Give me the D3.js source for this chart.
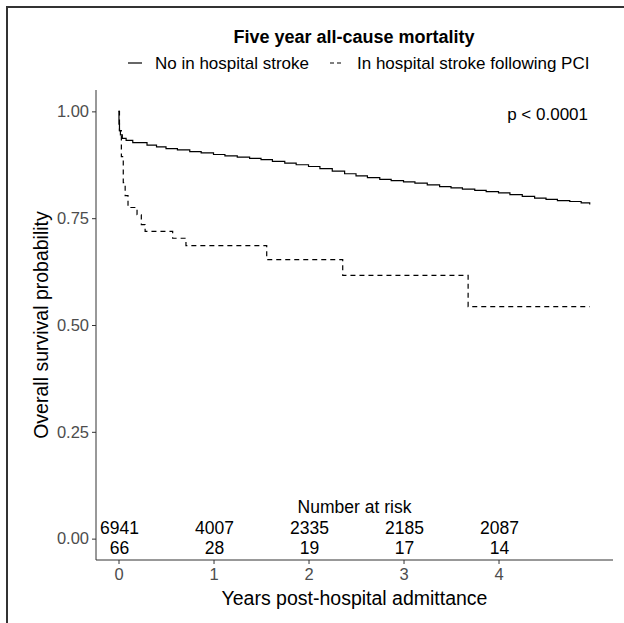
<!DOCTYPE html>
<html>
<head>
  <meta charset="utf-8">
  <script src="https://cdn.jsdelivr.net/npm/d3@7"></script>
  <style>
    body { margin: 0; background: #fff; }
    svg { display: block; font-family: "Liberation Sans", Arial, sans-serif; }
    .tick text { fill: #4d4d4d; font-size: 16.5px; }
    .tick line, .domain { stroke: #333; }
  </style>
</head>
<body>
<script>
// Kaplan-Meier estimates (years, survival)
const noStrokeT = [0, 0.005, 0.01, 0.02, 0.04, 0.08, 0.15, 0.3, 0.4, 0.5, 0.62, 0.75, 0.87, 1.0, 1.12, 1.25, 1.38, 1.5, 1.62, 1.75, 1.87, 2.0, 2.12, 2.25, 2.38, 2.5, 2.62, 2.75, 2.87, 3.0, 3.12, 3.25, 3.38, 3.5, 3.62, 3.75, 3.87, 4.0, 4.12, 4.25, 4.38, 4.5, 4.62, 4.75, 4.87, 4.96];
const noStrokeS = [1.0, 0.97, 0.955, 0.945, 0.937, 0.932, 0.927, 0.921, 0.917, 0.913, 0.910, 0.906, 0.903, 0.899, 0.896, 0.893, 0.890, 0.887, 0.883, 0.879, 0.875, 0.871, 0.866, 0.860, 0.854, 0.849, 0.845, 0.841, 0.838, 0.835, 0.832, 0.828, 0.824, 0.821, 0.818, 0.815, 0.812, 0.809, 0.805, 0.801, 0.797, 0.794, 0.791, 0.789, 0.786, 0.782];

const strokeT = [0, 0.01, 0.03, 0.05, 0.07, 0.10, 0.195, 0.24, 0.28, 0.57, 0.71, 1.56, 2.36, 3.68, 4.96];
const strokeS = [1.0, 0.955, 0.894, 0.833, 0.803, 0.775, 0.758, 0.735, 0.719, 0.703, 0.686, 0.653, 0.616, 0.543, 0.543];

const riskTimes = [0, 1, 2, 3, 4];
const riskNoStroke = [6941, 4007, 2335, 2185, 2087];
const riskStroke = [66, 28, 19, 17, 14];

const yTicks = [0, 0.25, 0.5, 0.75, 1];
const xTicks = [0, 1, 2, 3, 4];

const width = 624, height = 623;
const pLeft = 96, pRight = 613, pTop = 90, pBottom = 560;

const svg = d3.select("body").append("svg")
  .attr("width", width).attr("height", height);

// outer frame (cropped at right and bottom)
svg.append("rect")
  .attr("x", 7).attr("y", 7).attr("width", 700).attr("height", 700)
  .attr("fill", "none").attr("stroke", "#333").attr("stroke-width", 2);

const x = d3.scaleLinear().domain([-0.237, 5.205]).range([pLeft, pRight]);
const y = d3.scaleLinear().domain([-0.05, 1.05]).range([pBottom, pTop]);

svg.append("g")
  .attr("transform", `translate(0,${pBottom})`)
  .call(d3.axisBottom(x).tickValues(xTicks).tickFormat(d3.format("d")).tickSize(4).tickPadding(4))
  .call(g => g.select(".domain").attr("d", `M${pLeft},0H${pRight}`));

svg.append("g")
  .attr("transform", `translate(${pLeft},0)`)
  .call(d3.axisLeft(y).tickValues(yTicks).tickFormat(d3.format(".2f")).tickSize(4).tickPadding(3))
  .call(g => g.select(".domain").attr("d", `M0,${pTop}V${pBottom}`));

const line = d3.line()
  .x(d => x(d[0])).y(d => y(d[1]))
  .curve(d3.curveStepAfter);

svg.append("path")
  .datum(d3.zip(noStrokeT, noStrokeS))
  .attr("d", line)
  .attr("fill", "none").attr("stroke", "#000").attr("stroke-width", 1.2);

svg.append("path")
  .datum(d3.zip(strokeT, strokeS))
  .attr("d", line)
  .attr("fill", "none").attr("stroke", "#000").attr("stroke-width", 1.2)
  .attr("stroke-dasharray", "5,4");

// title + legend
svg.append("text")
  .attr("x", 354).attr("y", 43)
  .attr("text-anchor", "middle")
  .attr("font-weight", "bold").attr("font-size", 18)
  .text("Five year all-cause mortality");

const legend = [
  { label: "No in hospital stroke", x: 128, dash: null },
  { label: "In hospital stroke following PCI", x: 330, dash: "4,3" }
];
legend.forEach(l => {
  svg.append("line")
    .attr("x1", l.x).attr("x2", l.x + 14)
    .attr("y1", 63).attr("y2", 63)
    .attr("stroke", "#000").attr("stroke-width", 1.2)
    .attr("stroke-dasharray", l.dash);
  svg.append("text")
    .attr("x", l.x + 27).attr("y", 69)
    .attr("font-size", 17)
    .text(l.label);
});

svg.append("text")
  .attr("x", 588).attr("y", y(1) + 9)
  .attr("text-anchor", "end").attr("font-size", 17)
  .text("p < 0.0001");

// number at risk table inside panel
svg.append("text")
  .attr("x", (pLeft + pRight) / 2).attr("y", y(0) - 26)
  .attr("text-anchor", "middle").attr("font-size", 17.5)
  .text("Number at risk");

[riskNoStroke, riskStroke].forEach((row, i) => {
  svg.append("g").selectAll("text")
    .data(row)
    .join("text")
    .attr("x", (d, j) => x(riskTimes[j]) + 1)
    .attr("y", y(0) - 5 + i * 20)
    .attr("text-anchor", "middle").attr("font-size", 17.5)
    .text(d => d);
});

// axis titles
svg.append("text")
  .attr("x", (pLeft + pRight) / 2).attr("y", 605)
  .attr("text-anchor", "middle").attr("font-size", 19.5)
  .text("Years post-hospital admittance");

svg.append("text")
  .attr("transform", `translate(48,${(pTop + pBottom) / 2}) rotate(-90)`)
  .attr("text-anchor", "middle").attr("font-size", 19.5)
  .text("Overall survival probability");
</script>
</body>
</html>
